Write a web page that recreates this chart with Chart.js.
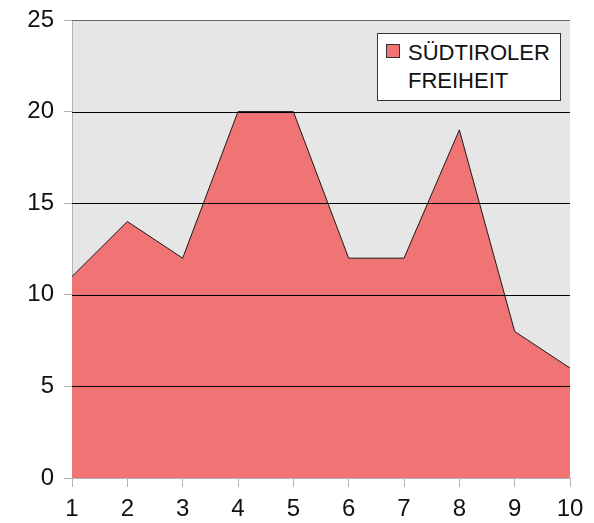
<!DOCTYPE html>
<html>
<head>
<meta charset="utf-8">
<script src="https://cdn.jsdelivr.net/npm/chart.js@4/dist/chart.umd.min.js"></script>
<style>
    html, body { margin: 0; padding: 0; background: #fff; }
    #wrap { position: relative; width: 594px; height: 523px; }
    #legend {
        position: absolute; left: 377px; top: 33px; width: 184px; height: 68px;
        box-sizing: border-box; border: 1px solid #333; background: #fff;
        font-family: 'Liberation Sans', Arial, sans-serif; font-size: 22px; color: #111;
        line-height: 28px; padding: 5px 0 0 8px;
    }
    #legend .sw {
        display: inline-block; width: 12px; height: 12px; background: #f07474;
        border: 1px solid #333; margin-right: 8px; vertical-align: 2px;
    }
    #legend .l2 { padding-left: 22px; }
</style>
</head>
<body>
<div id="wrap">
    <canvas id="c" width="594" height="523"></canvas>
    <div id="legend"><div><span class="sw"></span>SÜDTIROLER</div><div class="l2">FREIHEIT</div></div>
</div>
<script>
(function () {
    'use strict';

    var FONT = "'Liberation Sans', Arial, sans-serif";

    var categories = ['1', '2', '3', '4', '5', '6', '7', '8', '9', '10'];
    var values = [11, 14, 12, 20, 20, 12, 12, 19, 8, 6];
    var yTicks = [0, 5, 10, 15, 20, 25];
    var seriesLabel = 'SÜDTIROLER FREIHEIT';

    var plotBg = {
        id: 'plotBg',
        beforeDraw: function (chart) {
            var a = chart.chartArea;
            var ctx = chart.ctx;
            ctx.save();
            ctx.fillStyle = '#e6e6e6';
            ctx.fillRect(a.left, a.top, a.right - a.left, a.bottom - a.top);
            ctx.restore();
        },
        // horizontal grid lines sit on top of the filled area
        afterDatasetsDraw: function (chart) {
            var a = chart.chartArea;
            var y = chart.scales.y;
            var ctx = chart.ctx;
            ctx.save();
            ctx.lineWidth = 1;
            yTicks.forEach(function (v) {
                if (v === 0) return;
                var py = Math.round(y.getPixelForValue(v)) + 0.5;
                ctx.strokeStyle = v === 25 ? '#666' : '#000';
                ctx.beginPath();
                ctx.moveTo(a.left, py);
                ctx.lineTo(a.right, py);
                ctx.stroke();
            });
            ctx.restore();
        }
    };

    new Chart(document.getElementById('c'), {
        type: 'line',
        data: {
            labels: categories,
            datasets: [{
                label: seriesLabel,
                data: values,
                fill: 'origin',
                backgroundColor: '#f07474',
                borderColor: '#1a1a1a',
                borderWidth: 1,
                pointRadius: 0,
                tension: 0
            }]
        },
        plugins: [plotBg],
        options: {
            responsive: false,
            animation: false,
            layout: { padding: { top: 20, right: 24, left: 0, bottom: 0 } },
            plugins: {
                legend: { display: false },
                tooltip: { enabled: false }
            },
            scales: {
                x: {
                    offset: false,
                    ticks: {
                        font: { family: FONT, size: 24 },
                        color: '#111',
                        padding: 8,
                        maxRotation: 0
                    },
                    grid: {
                        drawOnChartArea: false,
                        tickLength: 9,
                        tickColor: '#b3b3b3'
                    },
                    border: { color: '#b3b3b3', width: 1 },
                    afterFit: function (s) {
                        s.height = 45;
                        s.paddingLeft = 0;
                        s.paddingRight = 0;
                    }
                },
                y: {
                    min: 0,
                    max: 25,
                    afterBuildTicks: function (s) {
                        s.ticks = yTicks.map(function (v) { return { value: v }; });
                    },
                    ticks: {
                        font: { family: FONT, size: 24 },
                        color: '#111',
                        padding: 10
                    },
                    grid: {
                        drawOnChartArea: false,
                        tickLength: 8,
                        tickColor: '#b3b3b3'
                    },
                    border: { color: '#b3b3b3', width: 1 },
                    afterFit: function (s) {
                        s.width = 72;
                        s.paddingTop = 0;
                        s.paddingBottom = 0;
                    }
                }
            }
        }
    });
})();
</script>
</body>
</html>
